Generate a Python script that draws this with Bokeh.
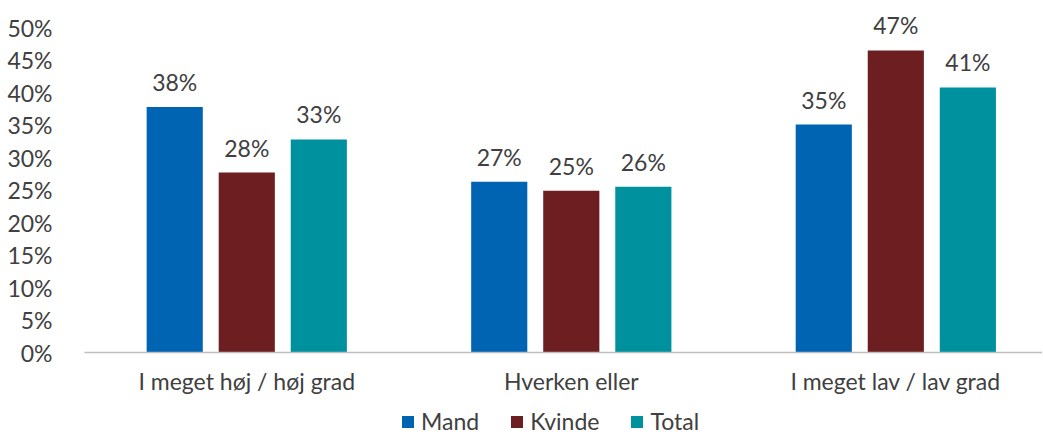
from bokeh.plotting import figure
from bokeh.layouts import column
from bokeh.models import ColumnDataSource, FixedTicker, PrintfTickFormatter, Range1d, Legend, LegendItem
from bokeh.transform import dodge
from bokeh.core.properties import value
from bokeh.embed import file_html
from bokeh.resources import INLINE

categories = ["I meget høj / høj grad", "Hverken eller", "I meget lav / lav grad"]
series = ["Mand", "Kvinde", "Total"]
mand = [37.8, 26.3, 35.1]
kvinde = [27.7, 24.9, 46.5]
total = [32.8, 25.5, 40.8]
mand_labels = ["38%", "27%", "35%"]
kvinde_labels = ["28%", "25%", "47%"]
total_labels = ["33%", "26%", "41%"]
y_ticks = [0, 5, 10, 15, 20, 25, 30, 35, 40, 45, 50]

colors = ["#0064B3", "#6D1E21", "#00919E"]
FONT = "Lato"
FS = "23px"
TXT = "#404040"

x = list(range(len(categories)))
src = ColumnDataSource(dict(x=x, Mand=mand, Kvinde=kvinde, Total=total,
                            lm=mand_labels, lk=kvinde_labels, lt=total_labels))

p = figure(frame_width=958, frame_height=341, output_backend="svg", toolbar_location=None,
           x_range=Range1d(-0.5, 2.452), y_range=Range1d(0, 52.5),
           min_border_left=84, min_border_right=0, min_border_top=11, min_border_bottom=40)

offsets = [-0.222, 0.0, 0.222]
vals = ["Mand", "Kvinde", "Total"]
labs = ["lm", "lk", "lt"]
for off, col, name, lab in zip(offsets, colors, vals, labs):
    p.vbar(x=dodge("x", off, range=p.x_range), top=name, width=0.173, source=src,
           color=col, line_color=None)
    p.text(x=dodge("x", off, range=p.x_range), y=name, text=lab, source=src,
           text_align="center", text_baseline="bottom", y_offset=-11,
           text_font=value(FONT), text_font_size=FS, text_color=TXT)

p.xgrid.visible = False
p.ygrid.visible = False
p.outline_line_color = None

p.yaxis.ticker = FixedTicker(ticks=y_ticks)
p.yaxis.formatter = PrintfTickFormatter(format="%d%%")
p.yaxis.axis_line_color = None
p.yaxis.major_tick_line_color = None
p.yaxis.minor_tick_line_color = None
p.yaxis.major_label_text_font = FONT
p.yaxis.major_label_text_font_size = FS
p.yaxis.major_label_text_color = TXT
p.yaxis.major_label_standoff = 26

p.xaxis.ticker = FixedTicker(ticks=x)
p.xaxis.major_label_overrides = {i: c for i, c in zip(x, categories)}
p.xaxis.axis_line_color = "#BFBFBF"
p.xaxis.axis_line_width = 1.5
p.xaxis.major_tick_line_color = None
p.xaxis.minor_tick_line_color = None
p.xaxis.major_label_text_font = FONT
p.xaxis.major_label_text_font_size = FS
p.xaxis.major_label_text_color = TXT
p.xaxis.major_label_standoff = 8

# legend strip below the chart
lg = figure(width=1042, height=48, output_backend="svg", toolbar_location=None,
            x_range=Range1d(0, 1), y_range=Range1d(0, 1),
            min_border_left=0, min_border_right=0, min_border_top=0, min_border_bottom=0)
lg.axis.visible = False
lg.grid.visible = False
lg.outline_line_color = None
items = []
for col, name in zip(colors, series):
    r = lg.vbar(x=[5], top=[1], width=0.1, color=col, line_color=None)
    items.append(LegendItem(label=name, renderers=[r]))
legend = Legend(items=items, orientation="horizontal", location=(316, 10),
                label_text_font=FONT, label_text_font_size=FS, label_text_color=TXT,
                glyph_width=15, glyph_height=15, spacing=30, padding=0, margin=0,
                border_line_color=None, background_fill_alpha=0, label_standoff=6)
lg.add_layout(legend, "center")

layout = column(p, lg, spacing=0)
open("out.html", "w").write(file_html(layout, INLINE))
